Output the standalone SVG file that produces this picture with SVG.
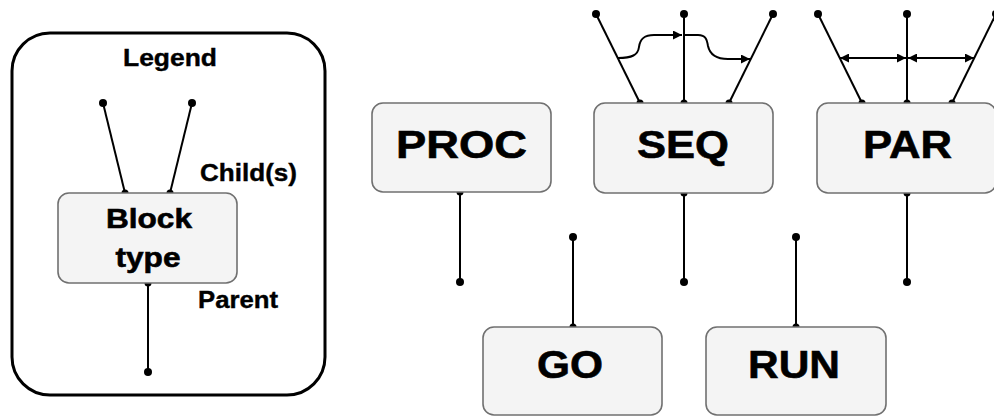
<svg xmlns="http://www.w3.org/2000/svg" width="994" height="417" viewBox="0 0 994 417">
  <style>
    .block { fill: #f4f4f4; stroke: #707070; stroke-width: 1.6; }
    .lbl { font-family: "Liberation Sans", Arial, Helvetica, sans-serif; font-weight: bold; fill: #000; stroke: #000; stroke-width: 0.6; }
    .big { font-size: 39px; }
    .mid { font-size: 28px; }
    .small { font-size: 24px; stroke-width: 0.4; }
    .wire { stroke: #000; stroke-width: 2; fill: none; }
    .dot { fill: #000; }
    .flow { stroke: #000; stroke-width: 2; fill: none; }
  </style>
  <defs>
    <marker id="arrow" viewBox="0 0 10 10" refX="10" refY="5" markerUnits="userSpaceOnUse" markerWidth="11" markerHeight="9" orient="auto-start-reverse">
      <path d="M0,0 L10,5 L0,10 z" fill="#000"/>
    </marker>
  </defs>

  <rect x="0" y="0" width="994" height="417" fill="#fff"/>

  <!-- legend frame -->
  <g id="legend">
    <rect x="12" y="33" width="313" height="362" rx="38" ry="38" fill="#fff" stroke="#000" stroke-width="3"/>
    <text class="lbl small" x="170" y="66" text-anchor="middle" textLength="94" lengthAdjust="spacingAndGlyphs">Legend</text>
    <text class="lbl small" x="200" y="181" textLength="97" lengthAdjust="spacingAndGlyphs">Child(s)</text>
    <text class="lbl small" x="198" y="308" textLength="80" lengthAdjust="spacingAndGlyphs">Parent</text>
  </g>

  <!-- connectors -->
  <g id="connectors">
    <!-- legend wires -->
    <line class="wire" x1="103" y1="103" x2="125" y2="193"/>
    <line class="wire" x1="192" y1="103" x2="170" y2="193"/>
    <line class="wire" x1="148" y1="283" x2="148" y2="372"/>
    <circle class="dot" cx="103" cy="103" r="4"/>
    <circle class="dot" cx="192" cy="103" r="4"/>
    <circle class="dot" cx="148" cy="372" r="4"/>
    <circle class="dot" cx="125" cy="193" r="3.5"/>
    <circle class="dot" cx="170" cy="193" r="3.5"/>
    <circle class="dot" cx="148" cy="283" r="3.5"/>

    <!-- PROC parent -->
    <line class="wire" x1="460" y1="192" x2="460" y2="282"/>
    <circle class="dot" cx="460" cy="282" r="4"/>
    <circle class="dot" cx="460" cy="192" r="3.5"/>

    <!-- SEQ children and parent -->
    <line class="wire" x1="596" y1="14" x2="640" y2="103"/>
    <line class="wire" x1="684" y1="14" x2="684" y2="103"/>
    <line class="wire" x1="773" y1="14" x2="729" y2="103"/>
    <circle class="dot" cx="596" cy="14" r="4"/>
    <circle class="dot" cx="684" cy="14" r="4"/>
    <circle class="dot" cx="773" cy="14" r="4"/>
    <circle class="dot" cx="640" cy="103" r="3.5"/>
    <circle class="dot" cx="684" cy="103" r="3.5"/>
    <circle class="dot" cx="729" cy="103" r="3.5"/>
    <path class="flow" d="M618,58 C632,58 638,55 639,47 C640,39 644,35 654,35 L682,35" marker-end="url(#arrow)"/>
    <path class="flow" d="M685,35 L698,35 C706,35 707,40 708,46 C710,55 716,59 728,59 L750,59" marker-end="url(#arrow)"/>
    <line class="wire" x1="684" y1="193" x2="684" y2="282"/>
    <circle class="dot" cx="684" cy="282" r="4"/>
    <circle class="dot" cx="684" cy="193" r="3.5"/>

    <!-- PAR children and parent -->
    <line class="wire" x1="818" y1="14" x2="862" y2="103"/>
    <line class="wire" x1="907" y1="14" x2="907" y2="103"/>
    <line class="wire" x1="996" y1="14" x2="952" y2="103"/>
    <circle class="dot" cx="818" cy="14" r="4"/>
    <circle class="dot" cx="907" cy="14" r="4"/>
    <circle class="dot" cx="996" cy="14" r="4"/>
    <circle class="dot" cx="862" cy="103" r="3.5"/>
    <circle class="dot" cx="907" cy="103" r="3.5"/>
    <circle class="dot" cx="952" cy="103" r="3.5"/>
    <line class="flow" x1="840" y1="58" x2="906" y2="58" marker-start="url(#arrow)" marker-end="url(#arrow)"/>
    <line class="flow" x1="908" y1="58" x2="974" y2="58" marker-start="url(#arrow)" marker-end="url(#arrow)"/>
    <line class="wire" x1="907" y1="193" x2="907" y2="282"/>
    <circle class="dot" cx="907" cy="282" r="4"/>
    <circle class="dot" cx="907" cy="193" r="3.5"/>

    <!-- GO child -->
    <line class="wire" x1="573" y1="237" x2="573" y2="327"/>
    <circle class="dot" cx="573" cy="237" r="4"/>
    <circle class="dot" cx="573" cy="327" r="3.5"/>

    <!-- RUN child -->
    <line class="wire" x1="796" y1="237" x2="796" y2="327"/>
    <circle class="dot" cx="796" cy="237" r="4"/>
    <circle class="dot" cx="796" cy="327" r="3.5"/>
  </g>

  <!-- blocks -->
  <g id="block-type">
    <rect class="block" x="58" y="193" width="179" height="90" rx="11"/>
    <text class="lbl mid" x="149" y="228" text-anchor="middle" textLength="86" lengthAdjust="spacingAndGlyphs">Block</text>
    <text class="lbl mid" x="148" y="267" text-anchor="middle" textLength="65" lengthAdjust="spacingAndGlyphs">type</text>
  </g>
  <g id="proc">
    <rect class="block" x="372" y="103" width="179" height="89" rx="11"/>
    <text class="lbl big" x="461.5" y="158" text-anchor="middle" textLength="131" lengthAdjust="spacingAndGlyphs">PROC</text>
  </g>
  <g id="seq">
    <rect class="block" x="594" y="103" width="179" height="90" rx="11"/>
    <text class="lbl big" x="683" y="158" text-anchor="middle" textLength="92" lengthAdjust="spacingAndGlyphs">SEQ</text>
  </g>
  <g id="par">
    <rect class="block" x="817" y="103" width="179" height="90" rx="11"/>
    <text class="lbl big" x="907.5" y="158" text-anchor="middle" textLength="89" lengthAdjust="spacingAndGlyphs">PAR</text>
  </g>
  <g id="go">
    <rect class="block" x="483" y="327" width="179" height="88" rx="11"/>
    <text class="lbl big" x="570" y="378" text-anchor="middle" textLength="66" lengthAdjust="spacingAndGlyphs">GO</text>
  </g>
  <g id="run">
    <rect class="block" x="706" y="327" width="180" height="88" rx="11"/>
    <text class="lbl big" x="794" y="378" text-anchor="middle" textLength="92" lengthAdjust="spacingAndGlyphs">RUN</text>
  </g>
</svg>
